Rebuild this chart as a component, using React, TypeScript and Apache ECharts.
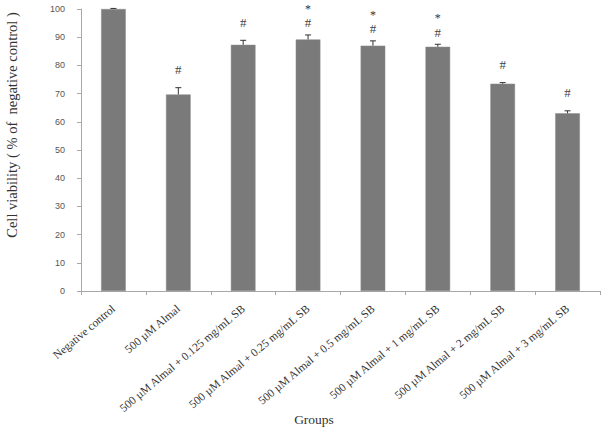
import React, { useEffect, useRef } from "react";
import * as echarts from "echarts";

const categories = [
  "Negative control",
  "500 µM Almal",
  "500 µM Almal + 0.125 mg/mL SB",
  "500 µM Almal + 0.25 mg/mL SB",
  "500 µM Almal + 0.5 mg/mL SB",
  "500 µM Almal + 1 mg/mL SB",
  "500 µM Almal + 2 mg/mL SB",
  "500 µM Almal + 3 mg/mL SB",
];
const means = [100, 69.7, 87.3, 89.2, 87.0, 86.6, 73.5, 63.0];
const errors = [0.2, 2.4, 1.6, 1.6, 1.7, 0.9, 0.4, 0.9];
const hashMarks = ["", "#", "#", "#", "#", "#", "#", "#"];
const starMarks = ["", "", "", "*", "*", "*", "", ""];
const yTicks = [0, 10, 20, 30, 40, 50, 60, 70, 80, 90, 100];

export default function App() {
  const ref = useRef<HTMLDivElement>(null);
  useEffect(() => {
    if (!ref.current) return;
    const chart = echarts.init(ref.current, undefined, { renderer: "svg" });
    const errData = means.map((m, i) => [i, m, m + errors[i]]);
    chart.setOption({
      animation: false,
      backgroundColor: "#ffffff",
      grid: { left: 81, right: 3, top: 9, bottom: 139, containLabel: false },
      xAxis: {
        type: "category",
        data: categories,
        axisLine: { lineStyle: { color: "#a8a8a8" } },
        axisTick: { show: true, length: 4, lineStyle: { color: "#a8a8a8" } },
        axisLabel: {
          interval: 0,
          rotate: 40,
          margin: 16,
          fontFamily: "Liberation Serif",
          fontSize: 11.5,
          color: "#333",
        },
      },
      yAxis: {
        type: "value",
        min: yTicks[0],
        max: yTicks[yTicks.length - 1],
        interval: 10,
        splitLine: { show: false },
        axisLine: { show: true, lineStyle: { color: "#a8a8a8" } },
        axisTick: { show: true, length: 4, lineStyle: { color: "#a8a8a8" } },
        axisLabel: {
          margin: 16,
          fontFamily: "Liberation Sans",
          fontSize: 9,
          color: "#555",
        },
      },
      graphic: [
        {
          type: "text",
          x: 12,
          y: 125,
          rotation: Math.PI / 2,
          style: {
            text: "Cell viability ( % of  negative control )",
            fontFamily: "Liberation Serif",
            fontSize: 14.5,
            fill: "#333",
            textAlign: "center",
            textVerticalAlign: "middle",
          },
        },
        {
          type: "text",
          x: 314,
          y: 419,
          style: {
            text: "Groups",
            fontFamily: "Liberation Serif",
            fontSize: 13.5,
            fill: "#333",
            textAlign: "center",
            textVerticalAlign: "middle",
          },
        },
      ],
      series: [
        {
          type: "bar",
          data: means,
          barWidth: "38%",
          itemStyle: { color: "#7a7a7a", borderColor: "#8a8a8a", borderWidth: 0.5 },
        },
        {
          type: "custom",
          clip: false,
          z: 5,
          data: errData,
          renderItem: (params: any, api: any) => {
            const i = api.value(0);
            const base = api.coord([i, api.value(1)]);
            const top = api.coord([i, api.value(2)]);
            const cap = 3;
            const hasStar = !!starMarks[i];
            const hashY = top[1] - (hasStar ? 12 : 18);
            const children: any[] = [
              {
                type: "line",
                shape: { x1: top[0], y1: base[1], x2: top[0], y2: top[1] },
                style: { stroke: "#333", lineWidth: 1 },
              },
              {
                type: "line",
                shape: { x1: top[0] - cap, y1: top[1], x2: top[0] + cap, y2: top[1] },
                style: { stroke: "#333", lineWidth: 1 },
              },
            ];
            if (hashMarks[i]) {
              children.push({
                type: "text",
                x: top[0],
                y: hashY,
                style: {
                  text: hashMarks[i],
                  fontFamily: "Liberation Serif",
                  fontSize: 13,
                  fill: "#444",
                  textAlign: "center",
                  textVerticalAlign: "middle",
                },
              });
            }
            if (hasStar) {
              children.push({
                type: "text",
                x: top[0],
                y: hashY - 14,
                style: {
                  text: starMarks[i],
                  fontFamily: "Liberation Serif",
                  fontSize: 12,
                  fill: "#333",
                  textAlign: "center",
                  textVerticalAlign: "middle",
                },
              });
            }
            return { type: "group", children };
          },
        },
      ],
    });
    return () => chart.dispose();
  }, []);
  return (
    <div
      ref={ref}
      style={{ position: "fixed", left: 0, top: 0, width: 603, height: 430 }}
    />
  );
}
